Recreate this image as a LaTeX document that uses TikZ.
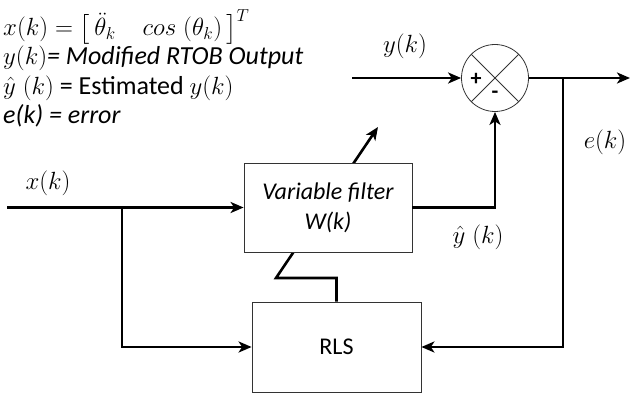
\documentclass[tikz,border=0pt]{standalone}
\usepackage{amsmath}
\usepackage{fontspec}
\setmainfont{Carlito}
\usetikzlibrary{arrows.meta,positioning,backgrounds}
\tikzset{
  blk/.style={draw=black!80, line width=0.8pt, fill=white, minimum width=168pt, minimum height=89pt, align=center, font=\fontsize{24}{30}\selectfont},
  sumn/.style={circle, draw=black!80, line width=0.8pt, minimum size=67pt, inner sep=0pt},
  sig/.style={line width=2.6pt, -{Stealth[length=13pt,width=11pt,inset=3.5pt]}},
  lbl/.style={font=\fontsize{26}{30}\selectfont},
  txt/.style={anchor=west, inner sep=0pt, font=\fontsize{26}{30}\selectfont},
}

\begin{document}
\begin{tikzpicture}[x=1pt, y=-1pt]
  \useasboundingbox (0,0) rectangle (632,398);

  % Definitions (top left)
  \node[txt, font=\fontsize{27}{30}\selectfont] (def1) at (3,27) {$x(k) = \big[\,\ddot{\theta}_k \quad cos\;(\theta_k)\,\big]^T$};
  \node[txt] (def2) at (3,58) {$y(k)$\textit{= Modified RTOB Output}};
  \node[txt] (def3) at (3,88) {$\hat{y}\;(k)$ = Estimated $y(k)$};
  \node[txt] (def4) at (3,116) {\textit{e(k) = error}};

  % Blocks
  \node[blk] (filt) at (328,207.5) {\textit{Variable filter}\\\textit{W(k)}};
  \node[blk, minimum width=169pt, minimum height=90pt] (rls) at (336.5,347) {RLS};

  % Summing junction
  \node[sumn] (sum) at (495,78) {};
  \draw[line width=0.8pt, draw=black!80] (sum.north west) -- (sum.south east)
    (sum.north east) -- (sum.south west);
  \node[font=\bfseries\fontsize{22}{22}\selectfont, inner sep=0pt] (plus) at (476,79) {+};
  \node[font=\bfseries\fontsize{22}{22}\selectfont, inner sep=0pt] (minus) at (495,95) {-};

  % Free ends
  \coordinate (xin) at (7,207.5);
  \coordinate (xbr) at (122,207.5);
  \coordinate (yin) at (352,78);
  \coordinate (yout) at (630,78);
  \coordinate (ebr) at (563,78);
  \coordinate (wbend) at (276,278);
  \coordinate (wtip) at (378,127);

  % Signals
  \draw[sig] (xin) -- (filt.west);
  \draw[sig] (xbr) |- (rls.west);
  \draw[sig] (yin) -- (sum.west);
  \draw[sig] (sum.east) -- (yout);
  \draw[sig] (ebr) |- (rls.east);
  \draw[sig] (filt.east) -| (sum.south);

  % Weight update passing through the filter
  \begin{scope}[on background layer]
    \draw[sig] (rls.north) |- (wbend) -- (wtip);
  \end{scope}

  % Signal labels
  \node[lbl] (ylab) at (405,46) {$y(k)$};
  \node[lbl] (elab) at (605,142) {$e(k)$};
  \node[lbl] (yhat) at (478,237) {$\hat{y}\;(k)$};
  \node[lbl] (xlab) at (48,183) {$x(k)$};
\end{tikzpicture}
\end{document}
